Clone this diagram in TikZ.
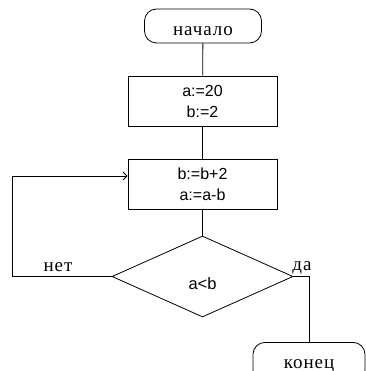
\documentclass[tikz,border=0pt]{standalone}
\usepackage{fontspec}
\setmainfont{Liberation Sans}
\newfontfamily\slabf[LetterSpace=5]{Liberation Serif}
\usetikzlibrary{shapes.geometric,arrows.meta}
\tikzset{
  term/.style={draw, line width=0.8pt, rounded corners=12pt, inner sep=0pt, font=\slabf\fontsize{19}{20}\selectfont},
  proc/.style={draw, line width=0.8pt, inner sep=0pt, minimum width=149pt, minimum height=50pt, align=center, font=\fontsize{16}{21}\selectfont},
  dec/.style={draw, line width=0.8pt, diamond, inner sep=0pt, minimum width=181pt, minimum height=81pt, font=\fontsize{16.5}{18}\selectfont},
  conn/.style={line width=0.8pt},
  lbl/.style={inner sep=0pt, font=\slabf\fontsize{19}{20}\selectfont},
}
\begin{document}
\begin{tikzpicture}[x=1pt,y=-1pt]
\useasboundingbox (0,0) rectangle (365,371);
\node[term, minimum width=117pt, minimum height=34pt, text height=20pt, text depth=0pt] (start) at (203,26) {начало};
\node[proc] (b1) at (202.5,101) {a:=20\\b:=2};
\node[proc] (b2) at (202.5,184) {b:=b+2\\a:=a-b};
\node[dec, text height=25pt, text depth=0pt] (d) at (202.5,276.5) {a<b};
\node[term, minimum width=112pt, minimum height=40pt, text height=12pt, text depth=0pt, anchor=north] (end) at (309,342) {конец};
\coordinate (lp) at (12,276.5);
\draw[conn] (start) -- (b1);
\draw[conn] (b1) -- (b2);
\draw[conn] (b2) -- (d);
\draw[conn, -{Straight Barb[length=4pt,width=8pt]}] (d.west) -- (lp) |- ([yshift=8pt]b2.west);
\draw[conn] (d.east) -| (end.north);
\node[lbl] (no) at (58,267) {нет};
\node[lbl] (yes) at (302,268) {да};
\end{tikzpicture}
\end{document}
